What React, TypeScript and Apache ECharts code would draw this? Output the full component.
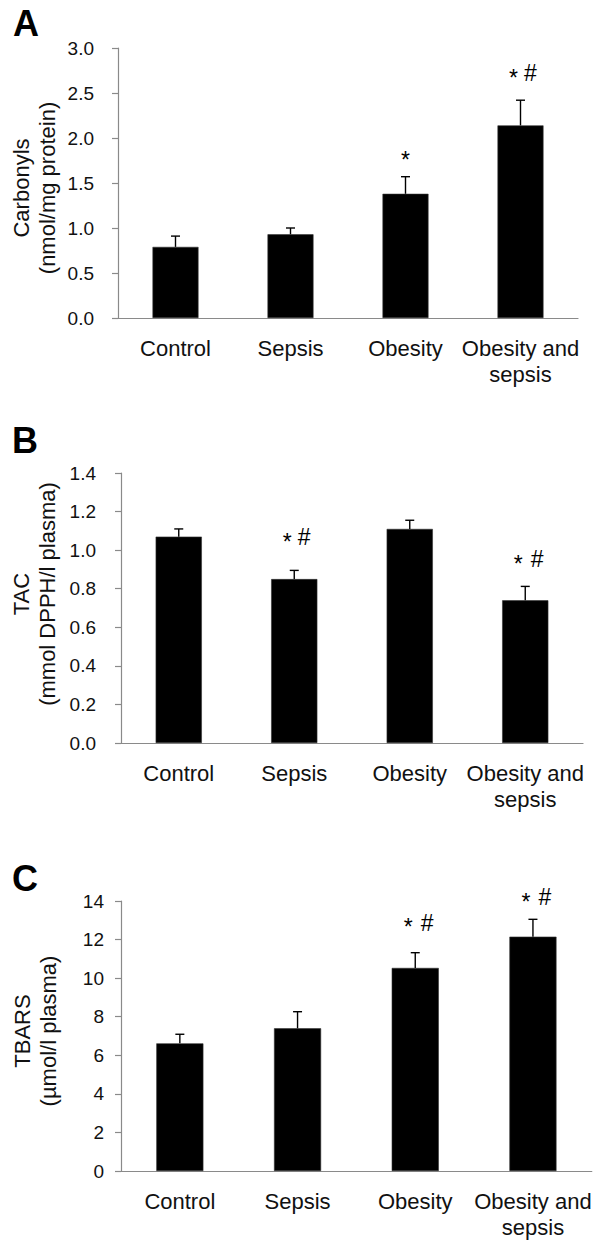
import React, { useEffect, useRef } from "react";
import * as echarts from "echarts";

const categories = ["Control", "Sepsis", "Obesity", "Obesity and\nsepsis"];

const carbonylsMean = [0.79, 0.93, 1.38, 2.14];
const carbonylsSem = [0.12, 0.07, 0.19, 0.28];
const carbonylsMarks = ["", "", "*", "*#"];
const carbonylsMarkY = [null, null, 1.81, 2.72];
const carbonylsTicks = ["0.0", "0.5", "1.0", "1.5", "2.0", "2.5", "3.0"];

const tacMean = [1.07, 0.85, 1.11, 0.74];
const tacSem = [0.04, 0.045, 0.045, 0.072];
const tacMarks = ["", "*#", "", "* #"];
const tacMarkY = [null, 1.066, null, 0.954];
const tacTicks = ["0.0", "0.2", "0.4", "0.6", "0.8", "1.0", "1.2", "1.4"];

const tbarsMean = [6.62, 7.4, 10.53, 12.15];
const tbarsSem = [0.47, 0.86, 0.79, 0.9];
const tbarsMarks = ["", "", "* #", "* #"];
const tbarsMarkY = [null, null, 12.86, 14.2];
const tbarsTicks = ["0", "2", "4", "6", "8", "10", "12", "14"];

const FONT = '"Liberation Sans", Arial, Helvetica, sans-serif';
const AXIS = "#8a8a8a";

type Panel = {
  letter: string;
  yName: string;
  mean: number[];
  sem: number[];
  marks: string[];
  markY: (number | null)[];
  ticks: string[];
  interval: number;
  grid: { left: number; top: number; width: number; height: number };
  labelMargin: number;
  letterPos: [number, number];
  namePos: [number, number];
};

const panels: Panel[] = [
  {
    letter: "A",
    yName: "Carbonyls\n(nmol/mg protein)",
    mean: carbonylsMean,
    sem: carbonylsSem,
    marks: carbonylsMarks,
    markY: carbonylsMarkY,
    ticks: carbonylsTicks,
    interval: 0.5,
    grid: { left: 118, top: 48, width: 460, height: 270 },
    labelMargin: 24,
    letterPos: [13, 23],
    namePos: [34, 188],
  },
  {
    letter: "B",
    yName: "TAC\n(mmol DPPH/l plasma)",
    mean: tacMean,
    sem: tacSem,
    marks: tacMarks,
    markY: tacMarkY,
    ticks: tacTicks,
    interval: 0.2,
    grid: { left: 121, top: 473, width: 462, height: 270 },
    labelMargin: 25,
    letterPos: [12, 440],
    namePos: [34, 594],
  },
  {
    letter: "C",
    yName: "TBARS\n(µmol/l plasma)",
    mean: tbarsMean,
    sem: tbarsSem,
    marks: tbarsMarks,
    markY: tbarsMarkY,
    ticks: tbarsTicks,
    interval: 2,
    grid: { left: 121, top: 901, width: 476, height: 270 },
    labelMargin: 17,
    letterPos: [12, 878],
    namePos: [35, 1031],
  },
];

function buildOption() {
  const grid: any[] = [];
  const xAxis: any[] = [];
  const yAxis: any[] = [];
  const series: any[] = [];
  const graphic: any[] = [];

  panels.forEach((p, k) => {
    grid.push({ ...p.grid, containLabel: false });
    xAxis.push({
      type: "category",
      gridIndex: k,
      data: categories,
      axisLine: { show: true, lineStyle: { color: AXIS, width: 1.2 } },
      axisTick: { show: false },
      axisLabel: {
        margin: 17,
        fontSize: 22,
        lineHeight: 26,
        color: "#111",
        fontFamily: FONT,
        interval: 0,
      },
    });
    const max = (p.ticks.length - 1) * p.interval;
    yAxis.push({
      type: "value",
      gridIndex: k,
      min: 0,
      max,
      interval: p.interval,
      splitLine: { show: false },
      axisLine: { show: true, lineStyle: { color: AXIS, width: 1.2 } },
      axisTick: { show: true, inside: false, length: 6, lineStyle: { color: AXIS, width: 1.2 } },
      axisLabel: {
        margin: p.labelMargin,
        fontSize: 19,
        color: "#111",
        fontFamily: FONT,
        formatter: (v: number) => p.ticks[Math.round(v / p.interval)] ?? "",
      },
    });
    series.push({
      type: "bar",
      xAxisIndex: k,
      yAxisIndex: k,
      data: p.mean,
      barWidth: "40%",
      itemStyle: { color: "#000", borderColor: "#333", borderWidth: 0.6 },
      z: 2,
    });
    series.push({
      type: "custom",
      xAxisIndex: k,
      yAxisIndex: k,
      z: 3,
      data: p.mean.map((m, i) => [i, m, m + p.sem[i]]),
      renderItem: (params: any, api: any) => {
        const i = api.value(0);
        const p0 = api.coord([i, api.value(1)]);
        const p1 = api.coord([i, api.value(2)]);
        const st = { stroke: "#000", lineWidth: 1.4 };
        return {
          type: "group",
          children: [
            { type: "line", shape: { x1: p0[0], y1: p0[1], x2: p1[0], y2: p1[1] }, style: st },
            { type: "line", shape: { x1: p1[0] - 4.5, y1: p1[1], x2: p1[0] + 4.5, y2: p1[1] }, style: st },
          ],
        };
      },
    });
    const markData: any[] = [];
    p.marks.forEach((m, i) => {
      if (m && p.markY[i] != null) markData.push([i, p.markY[i]]);
    });
    series.push({
      type: "custom",
      xAxisIndex: k,
      yAxisIndex: k,
      z: 4,
      clip: false,
      data: markData,
      renderItem: (params: any, api: any) => {
        const i = api.value(0);
        const c = api.coord([i, api.value(1)]);
        const mark = p.marks[i];
        let starDx = 0;
        let hashDx: number | null = null;
        if (mark === "*#") {
          starDx = -7;
          hashDx = 10;
        } else if (mark === "* #") {
          starDx = -7;
          hashDx = 12;
        }
        const children: any[] = [
          {
            type: "text",
            x: c[0] + starDx,
            y: c[1] + 4.5,
            style: {
              text: "*",
              fontSize: 23,
              fontFamily: FONT,
              fill: "#000",
              align: "center",
              verticalAlign: "middle",
            },
          },
        ];
        if (hashDx !== null) {
          children.push({
            type: "text",
            x: c[0] + hashDx,
            y: c[1],
            style: {
              text: "#",
              fontSize: 23,
              fontFamily: FONT,
              fill: "#000",
              align: "center",
              verticalAlign: "middle",
            },
          });
        }
        return { type: "group", children };
      },
    });

    graphic.push({
      type: "text",
      x: p.letterPos[0],
      y: p.letterPos[1],
      style: {
        text: p.letter,
        fontSize: 36,
        fontWeight: "bold",
        fontFamily: FONT,
        fill: "#000",
        align: "left",
        verticalAlign: "middle",
      },
    });
    graphic.push({
      type: "text",
      x: p.namePos[0],
      y: p.namePos[1],
      rotation: Math.PI / 2,
      style: {
        text: p.yName,
        fontSize: 22,
        lineHeight: 26,
        fontFamily: FONT,
        fill: "#111",
        align: "center",
        verticalAlign: "middle",
      },
    });
  });

  return {
    animation: false,
    backgroundColor: "#fff",
    textStyle: { fontFamily: FONT },
    grid,
    xAxis,
    yAxis,
    series,
    graphic,
  };
}

export default function App() {
  const ref = useRef<HTMLDivElement>(null);
  useEffect(() => {
    if (!ref.current) return;
    const chart = echarts.init(ref.current, undefined, { renderer: "svg" });
    chart.setOption(buildOption() as any);
    return () => chart.dispose();
  }, []);
  return (
    <div
      ref={ref}
      style={{ position: "absolute", left: 0, top: 0, width: 594, height: 1242, background: "#fff" }}
    />
  );
}
